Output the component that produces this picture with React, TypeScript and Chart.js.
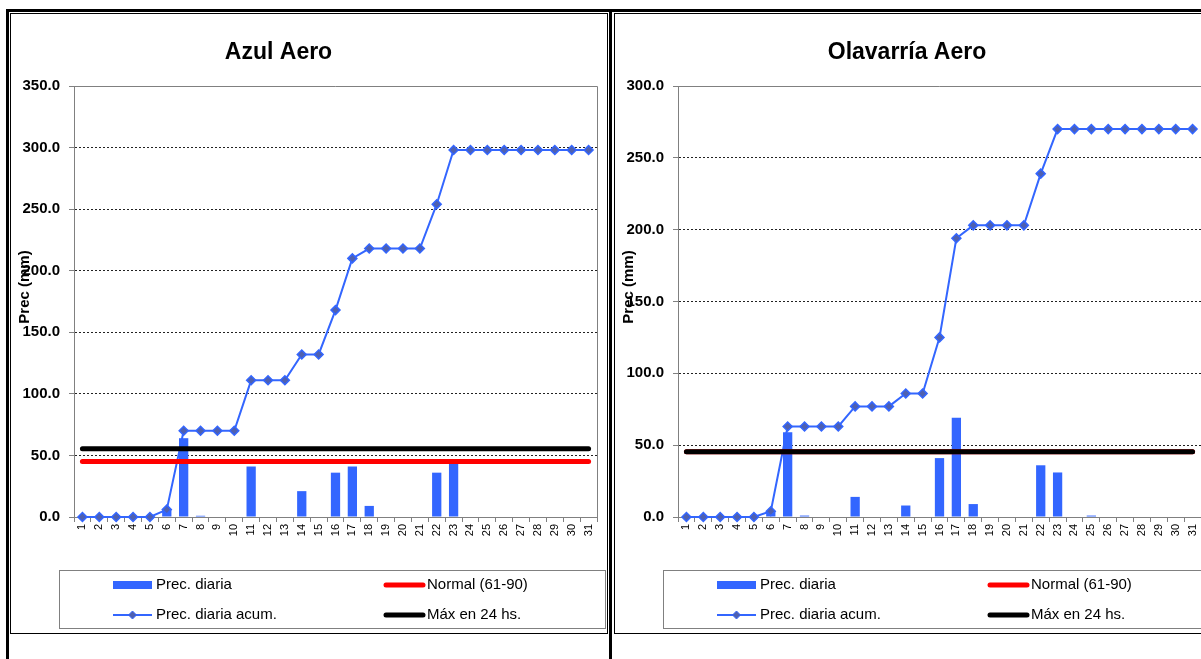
import React, { useEffect, useRef } from "react";
import { Chart, registerables } from "chart.js";

Chart.register(...registerables);

const days = ["1","2","3","4","5","6","7","8","9","10","11","12","13","14","15","16","17","18","19","20","21","22","23","24","25","26","27","28","29","30","31"];

const azulDaily = [0,0,0,0,0,6,64,1,0,0,41,0,0,21,0,36,41,9,0,0,0,36,44,0,0,0,0,0,0,0,0];
const azulAcum = [0,0,0,0,0,6,70,70,70,70,111,111,111,132,132,168,210,218,218,218,218,254,298,298,298,298,298,298,298,298,298];
const azulNormal = 45;
const azulMax = 55.5;

const olaDaily = [0,0,0,0,0,4,59,1,0,0,14,0,0,8,0,41,69,9,0,0,0,36,31,0,1,0,0,0,0,0,0];
const olaAcum = [0,0,0,0,0,4,63,63,63,63,77,77,77,86,86,125,194,203,203,203,203,239,270,270,270,270,270,270,270,270,270];
const olaNormal = 45.5;
const olaMax = 45.5;

const seriesNames = ["Prec. diaria", "Prec. diaria acum.", "Normal (61-90)", "Máx en 24 hs."];
const FONT = "'Liberation Sans', Arial, sans-serif";
const BLUE = "#3366ff";
const MARKER = "#4e60b0";

type Cfg = {
  title: string;
  titleX: number;
  daily: number[];
  acum: number[];
  normal: number;
  max: number;
  yMax: number;
};

const W = 596;
const H = 619;

function makeDecor(cfg: Cfg) {
  return {
    id: "decor",
    beforeDatasetsDraw(chart: any) {
      const { ctx, chartArea: a } = chart;
      ctx.save();
      ctx.strokeStyle = "#808080";
      ctx.lineWidth = 1;
      ctx.beginPath();
      ctx.moveTo(Math.round(a.left), Math.round(a.top) + 0.5);
      ctx.lineTo(Math.round(a.right) + 0.5, Math.round(a.top) + 0.5);
      ctx.lineTo(Math.round(a.right) + 0.5, Math.round(a.bottom));
      ctx.stroke();
      ctx.restore();
    },
    afterDraw(chart: any) {
      const ctx = chart.ctx as CanvasRenderingContext2D;
      ctx.save();
      // title
      ctx.fillStyle = "#000";
      ctx.font = `bold 23px ${FONT}`;
      ctx.textAlign = "center";
      ctx.textBaseline = "alphabetic";
      ctx.fillText(cfg.title, cfg.titleX, 45);
      // y axis label
      ctx.save();
      ctx.translate(14, 273);
      ctx.rotate(-Math.PI / 2);
      ctx.font = `bold 15px ${FONT}`;
      ctx.textAlign = "center";
      ctx.textBaseline = "middle";
      ctx.fillText("Prec (mm)", 0, 0);
      ctx.restore();
      // legend box
      ctx.strokeStyle = "#808080";
      ctx.lineWidth = 1;
      ctx.strokeRect(48.5, 556.5, 546, 58);
      const r1 = 571;
      const r2 = 601;
      ctx.font = `15px ${FONT}`;
      ctx.textAlign = "left";
      ctx.textBaseline = "middle";
      // Prec. diaria
      ctx.fillStyle = BLUE;
      ctx.fillRect(102, r1 - 4, 39, 8);
      ctx.fillStyle = "#000";
      ctx.fillText(seriesNames[0], 145, r1);
      // acum
      ctx.strokeStyle = BLUE;
      ctx.lineWidth = 2;
      ctx.beginPath();
      ctx.moveTo(102, r2);
      ctx.lineTo(141, r2);
      ctx.stroke();
      ctx.fillStyle = MARKER;
      ctx.strokeStyle = BLUE;
      ctx.lineWidth = 1;
      ctx.beginPath();
      ctx.moveTo(121.5, r2 - 4);
      ctx.lineTo(125.5, r2);
      ctx.lineTo(121.5, r2 + 4);
      ctx.lineTo(117.5, r2);
      ctx.closePath();
      ctx.fill();
      ctx.stroke();
      ctx.fillStyle = "#000";
      ctx.fillText(seriesNames[1], 145, r2);
      // normal
      ctx.lineCap = "round";
      ctx.lineWidth = 5;
      ctx.strokeStyle = "#ff0000";
      ctx.beginPath();
      ctx.moveTo(375, r1);
      ctx.lineTo(412, r1);
      ctx.stroke();
      ctx.fillText(seriesNames[2], 416, r1);
      // max
      ctx.strokeStyle = "#000";
      ctx.beginPath();
      ctx.moveTo(375, r2);
      ctx.lineTo(412, r2);
      ctx.stroke();
      ctx.fillText(seriesNames[3], 416, r2);
      ctx.restore();
    },
  };
}

function StationChart({ cfg, left }: { cfg: Cfg; left: number }) {
  const ref = useRef<HTMLCanvasElement | null>(null);
  useEffect(() => {
    if (!ref.current) return;
    const yMax = cfg.yMax;
    const chart = new Chart(ref.current, {
      type: "bar",
      data: {
        labels: days,
        datasets: [
          {
            type: "bar",
            label: seriesNames[0],
            data: cfg.daily,
            backgroundColor: BLUE,
            barPercentage: 0.55,
            categoryPercentage: 1,
            order: 4,
          } as any,
          {
            type: "line",
            label: seriesNames[1],
            data: cfg.acum,
            borderColor: BLUE,
            borderWidth: 2,
            pointStyle: "rectRot",
            pointRadius: 4.5,
            pointBackgroundColor: MARKER,
            pointBorderColor: BLUE,
            pointBorderWidth: 1.5,
            tension: 0,
            clip: false,
            order: 3,
          } as any,
          {
            type: "line",
            label: seriesNames[2],
            data: days.map(() => cfg.normal),
            borderColor: "#ff0000",
            borderWidth: 5,
            borderCapStyle: "round",
            pointRadius: 0,
            clip: false,
            order: 2,
          } as any,
          {
            type: "line",
            label: seriesNames[3],
            data: days.map(() => cfg.max),
            borderColor: "#000000",
            borderWidth: 5,
            borderCapStyle: "round",
            pointRadius: 0,
            clip: false,
            order: 1,
          } as any,
        ],
      },
      options: {
        responsive: false,
        animation: false,
        devicePixelRatio: 1,
        layout: { padding: { left: 0, right: 10, top: 72, bottom: 76 } },
        plugins: {
          legend: { display: false },
          title: { display: false },
          tooltip: { enabled: false },
        },
        scales: {
          x: {
            grid: {
              drawOnChartArea: false,
              drawTicks: true,
              tickLength: 5,
              color: "#808080",
              offset: true,
            },
            border: { display: true, color: "#808080" },
            ticks: {
              minRotation: 90,
              maxRotation: 90,
              autoSkip: false,
              color: "#000",
              padding: 2,
              font: { family: FONT, size: 11 },
            },
            afterFit: (s: any) => {
              s.height = 40;
            },
          },
          y: {
            min: 0,
            max: yMax,
            ticks: {
              stepSize: 50,
              color: "#000",
              padding: 9,
              font: { family: FONT, size: 15, weight: "bold" },
              callback: (v: any) => Number(v).toFixed(1),
            },
            grid: {
              color: (c: any) =>
                c.tick && (c.tick.value === 0 || c.tick.value === yMax) ? "rgba(0,0,0,0)" : "#222",
              tickColor: "#808080",
              tickLength: 5,
              lineWidth: 1,
            },
            border: { display: true, color: "#808080", dash: [2, 2] },
            afterFit: (s: any) => {
              s.width = 63;
            },
          },
        },
      } as any,
      plugins: [makeDecor(cfg)],
    });
    return () => chart.destroy();
  }, [cfg]);
  return (
    <div
      style={{
        position: "absolute",
        left,
        top: 13,
        width: W,
        height: H,
        border: "1px solid #000",
        background: "#fff",
      }}
    >
      <canvas ref={ref} width={W} height={H} style={{ display: "block", width: W, height: H }} />
    </div>
  );
}

const azulCfg: Cfg = {
  title: "Azul Aero",
  titleX: 267.5,
  daily: azulDaily,
  acum: azulAcum,
  normal: azulNormal,
  max: azulMax,
  yMax: 350,
};

const olaCfg: Cfg = {
  title: "Olavarría Aero",
  titleX: 292,
  daily: olaDaily,
  acum: olaAcum,
  normal: olaNormal,
  max: olaMax,
  yMax: 300,
};

export default function App() {
  const line = (s: React.CSSProperties) => (
    <div style={{ position: "absolute", background: "#000", ...s }} />
  );
  return (
    <div
      style={{
        position: "fixed",
        left: 0,
        top: 0,
        width: 1201,
        height: 659,
        overflow: "hidden",
        background: "#fff",
      }}
    >
      <StationChart cfg={azulCfg} left={10} />
      <StationChart cfg={olaCfg} left={614} />
      {line({ left: 6, top: 9, width: 1200, height: 3 })}
      {line({ left: 6, top: 9, width: 3, height: 660 })}
      {line({ left: 609, top: 9, width: 3, height: 660 })}
    </div>
  );
}
